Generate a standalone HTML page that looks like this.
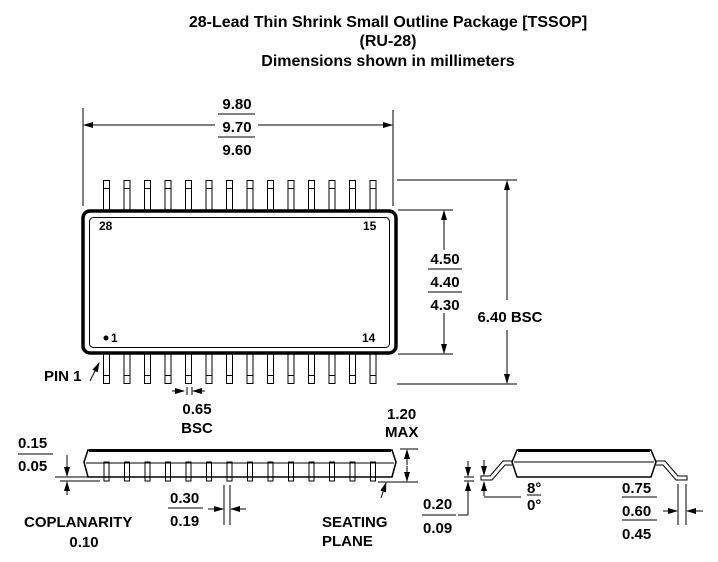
<!DOCTYPE html>
<html><head><style>
body{margin:0;background:#fff;}
svg{display:block;}
text{font-family:"Liberation Sans",sans-serif;fill:#000;font-weight:bold;}
</style></head><body>
<svg width="718" height="562" viewBox="0 0 718 562" xmlns="http://www.w3.org/2000/svg">
<defs>
<marker id="a" markerWidth="10" markerHeight="8" refX="9" refY="4" orient="auto" markerUnits="userSpaceOnUse"><path d="M0,1 L10,4 L0,7 Z" fill="#000"/></marker>
</defs>
<g font-size="16" text-anchor="middle">
<text x="388" y="27">28-Lead Thin Shrink Small Outline Package [TSSOP]</text>
<text x="388" y="46">(RU-28)</text>
<text x="388" y="66">Dimensions shown in millimeters</text>
</g>
<g stroke="#000" stroke-width="1" fill="none">
<line x1="83" y1="108" x2="83" y2="206"/>
<line x1="393" y1="110" x2="393" y2="206"/>
<line x1="215" y1="125" x2="84" y2="125" marker-end="url(#a)"/>
<line x1="258" y1="125" x2="392" y2="125" marker-end="url(#a)"/>
<line x1="218" y1="114" x2="255" y2="114"/>
<line x1="218" y1="137" x2="255" y2="137"/>
<line x1="397" y1="180" x2="517" y2="180"/>
<line x1="397" y1="384" x2="517" y2="384"/>
<line x1="398" y1="210" x2="453" y2="210"/>
<line x1="398" y1="354" x2="453" y2="354"/>
<line x1="444" y1="250" x2="444" y2="211" marker-end="url(#a)"/>
<line x1="444" y1="313" x2="444" y2="353" marker-end="url(#a)"/>
<line x1="507" y1="300" x2="507" y2="181" marker-end="url(#a)"/>
<line x1="507" y1="330" x2="507" y2="383" marker-end="url(#a)"/>
<line x1="428" y1="269" x2="462" y2="269"/>
<line x1="428" y1="292" x2="462" y2="292"/>
</g>
<g font-size="15" text-anchor="middle">
<text x="237" y="109">9.80</text>
<text x="237" y="132">9.70</text>
<text x="237" y="155">9.60</text>
<text x="445" y="264">4.50</text>
<text x="445" y="287">4.40</text>
<text x="445" y="310">4.30</text>
<text x="510" y="322">6.40 BSC</text>
</g>
<g stroke="#000" stroke-width="1" fill="#fff">
<rect x="103.5" y="180.5" width="6" height="30"/><rect x="124" y="180.5" width="6" height="30"/><rect x="144.5" y="180.5" width="6" height="30"/><rect x="165" y="180.5" width="6" height="30"/><rect x="185.5" y="180.5" width="6" height="30"/><rect x="206" y="180.5" width="6" height="30"/><rect x="226.5" y="180.5" width="6" height="30"/><rect x="247" y="180.5" width="6" height="30"/><rect x="267.5" y="180.5" width="6" height="30"/><rect x="288" y="180.5" width="6" height="30"/><rect x="308.5" y="180.5" width="6" height="30"/><rect x="329" y="180.5" width="6" height="30"/><rect x="349.5" y="180.5" width="6" height="30"/><rect x="370" y="180.5" width="6" height="30"/>
<rect x="103.5" y="353.5" width="6" height="30"/><rect x="124" y="353.5" width="6" height="30"/><rect x="144.5" y="353.5" width="6" height="30"/><rect x="165" y="353.5" width="6" height="30"/><rect x="185.5" y="353.5" width="6" height="30"/><rect x="206" y="353.5" width="6" height="30"/><rect x="226.5" y="353.5" width="6" height="30"/><rect x="247" y="353.5" width="6" height="30"/><rect x="267.5" y="353.5" width="6" height="30"/><rect x="288" y="353.5" width="6" height="30"/><rect x="308.5" y="353.5" width="6" height="30"/><rect x="329" y="353.5" width="6" height="30"/><rect x="349.5" y="353.5" width="6" height="30"/><rect x="370" y="353.5" width="6" height="30"/>
</g>
<g stroke="#000" stroke-width="1" stroke-dasharray="6 14.5" stroke-dashoffset="0">
<line x1="103.5" y1="188.5" x2="376" y2="188.5"/>
<line x1="103.5" y1="375.5" x2="376" y2="375.5"/>
</g>
<rect x="83" y="211" width="313" height="142" rx="7" fill="#fff" stroke="#000" stroke-width="3.5"/>
<rect x="89.5" y="217.5" width="300" height="130" rx="4" fill="none" stroke="#000" stroke-width="1"/>
<g font-size="12">
<text x="99" y="230">28</text>
<text x="363" y="230">15</text>
<text x="362" y="342">14</text>
<text x="111" y="342">1</text>
</g>
<circle cx="106" cy="338" r="2.5" fill="#000"/>
<text x="44" y="381" font-size="15">PIN 1</text>
<line x1="90" y1="381" x2="99" y2="363" stroke="#000" marker-end="url(#a)"/>
<g stroke="#000">
<line x1="172" y1="391" x2="184" y2="391" marker-end="url(#a)"/>
<line x1="205" y1="391" x2="193" y2="391" marker-end="url(#a)"/>
<line x1="187" y1="387" x2="187" y2="395"/>
<line x1="192" y1="387" x2="192" y2="395"/>
</g>
<g font-size="15" text-anchor="middle">
<text x="197" y="414">0.65</text>
<text x="197" y="433">BSC</text>
</g>
<g stroke="#000" fill="#fff">
<rect x="104" y="462" width="5" height="19"/><rect x="124.5" y="462" width="5" height="19"/><rect x="145" y="462" width="5" height="19"/><rect x="165.5" y="462" width="5" height="19"/><rect x="186" y="462" width="5" height="19"/><rect x="206.5" y="462" width="5" height="19"/><rect x="227" y="462" width="5" height="19"/><rect x="247.5" y="462" width="5" height="19"/><rect x="268" y="462" width="5" height="19"/><rect x="288.5" y="462" width="5" height="19"/><rect x="309" y="462" width="5" height="19"/><rect x="329.5" y="462" width="5" height="19"/><rect x="350" y="462" width="5" height="19"/><rect x="370.5" y="462" width="5" height="19"/>
</g>
<path d="M88,450 L392,450 L396,462 L392,477 L88,477 L84,462 Z" fill="none" stroke="#000" stroke-width="1.5"/>
<path d="M89,450.5 L391,450.5" stroke="#000" stroke-width="3"/>
<line x1="86" y1="463" x2="394" y2="463" stroke="#000"/>
<g stroke="#000" fill="none">
<line x1="400" y1="449" x2="418" y2="449"/>
<line x1="378" y1="482" x2="418" y2="482"/>
<line x1="407" y1="465" x2="407" y2="450" marker-end="url(#a)"/>
<line x1="407" y1="466" x2="407" y2="481" marker-end="url(#a)"/>
<line x1="381" y1="498" x2="386" y2="483" marker-end="url(#a)"/>
<line x1="55" y1="477" x2="100" y2="477"/>
<line x1="60" y1="481" x2="100" y2="481"/>
<line x1="67" y1="455" x2="67" y2="476" marker-end="url(#a)"/>
<line x1="67" y1="495" x2="67" y2="482" marker-end="url(#a)"/>
<line x1="18" y1="454" x2="53" y2="454"/>
<line x1="224" y1="485" x2="224" y2="525"/>
<line x1="230" y1="485" x2="230" y2="525"/>
<line x1="208" y1="509" x2="223" y2="509" marker-end="url(#a)"/>
<line x1="246" y1="509" x2="231" y2="509" marker-end="url(#a)"/>
<line x1="168" y1="508" x2="203" y2="508"/>
</g>
<g font-size="15">
<text x="387" y="419">1.20</text>
<text x="385" y="437">MAX</text>
<text x="18" y="448">0.15</text>
<text x="18" y="471">0.05</text>
<text x="170" y="503">0.30</text>
<text x="170" y="526">0.19</text>
<text x="24" y="527">COPLANARITY</text>
<text x="84" y="547" text-anchor="middle">0.10</text>
<text x="322" y="527">SEATING</text>
<text x="322" y="546">PLANE</text>
</g>
<path d="M517,450 L651,450 L656,462 L651,477 L517,477 L512,462 Z" fill="none" stroke="#000" stroke-width="1.5"/>
<path d="M518,450.5 L650,450.5" stroke="#000" stroke-width="3"/>
<line x1="514" y1="462" x2="654" y2="462" stroke="#000"/>
<g stroke="#000" fill="none">
<path d="M512,461 L503,461 L490,476 L481,476 L481,480 L492,480 L505,465 L512,465"/>
<path d="M656,461 L665,461 L678,476 L687,476 L687,480 L676,480 L663,465 L656,465"/>
<line x1="464" y1="477" x2="474" y2="477"/>
<line x1="464" y1="481" x2="474" y2="481"/>
<line x1="468" y1="461" x2="468" y2="476" marker-end="url(#a)"/>
<line x1="468" y1="496" x2="468" y2="482" marker-end="url(#a)"/>
<line x1="468" y1="496" x2="468" y2="515"/>
<line x1="458" y1="515" x2="468" y2="515"/>
<line x1="484" y1="460" x2="484" y2="475" marker-end="url(#a)"/>
<line x1="484" y1="496" x2="484" y2="482" marker-end="url(#a)"/>
<line x1="484" y1="497" x2="521" y2="497"/>
<line x1="678" y1="484" x2="678" y2="525"/>
<line x1="686" y1="484" x2="686" y2="525"/>
<line x1="663" y1="511" x2="677" y2="511" marker-end="url(#a)"/>
<line x1="703" y1="511" x2="687" y2="511" marker-end="url(#a)"/>
<line x1="422" y1="515" x2="456" y2="515"/>
<line x1="622" y1="497" x2="657" y2="497"/>
<line x1="622" y1="520" x2="657" y2="520"/>
<line x1="527" y1="495" x2="541" y2="495"/>
</g>
<g font-size="15">
<text x="423" y="509">0.20</text>
<text x="423" y="533">0.09</text>
<text x="527" y="493">8°</text>
<text x="527" y="510">0°</text>
<text x="622" y="493">0.75</text>
<text x="622" y="516">0.60</text>
<text x="622" y="539">0.45</text>
</g>
</svg>
</body></html>
